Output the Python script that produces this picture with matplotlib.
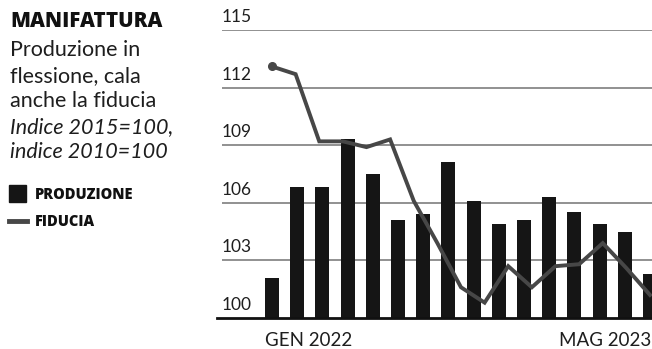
import numpy as np
import matplotlib.pyplot as plt
from matplotlib.patches import Rectangle
from matplotlib.lines import Line2D

plt.rcParams['font.family'] = ['Lato', 'DejaVu Sans']
heavy = ['Open Sans', 'DejaVu Sans']

# Produzione industriale (indice 2015=100), gen 2022 - apr 2023
produzione = [102.1, 106.8, 106.8, 109.3, 107.5, 105.1, 105.4, 108.1,
              106.1, 104.9, 105.1, 106.3, 105.5, 104.9, 104.5, 102.3]
# Fiducia delle imprese manifatturiere (indice 2010=100), gen 2022 - mag 2023
fiducia = [113.1, 112.7, 109.2, 109.2, 108.9, 109.3, 106.1, 103.9, 101.6,
           100.8, 102.7, 101.6, 102.7, 102.8, 103.9, 102.6, 101.2]
y_ticks = [100, 103, 106, 109, 112, 115]
x_labels = ['GEN 2022', 'MAG 2023']

W, H = 652, 349
fig = plt.figure(figsize=(W / 100, H / 100), dpi=100)
fig.patch.set_facecolor('white')


def fx(px):
    return px / W


def fy(py):
    return 1 - py / H


bar_color = '#151515'
line_color = '#474747'
grid_color = '#888888'
text_color = '#1e1e1e'

# plot area (pixel box 222..652 x 30..318)
ax = fig.add_axes([fx(222), fy(318), fx(652) - fx(222), fy(30) - fy(318)])
ax.set_facecolor('none')
for s in ax.spines.values():
    s.set_visible(False)

n_bar = len(produzione)
xb = np.arange(n_bar)
ax.set_xlim(-1.984, 15.08)
ax.set_ylim(100, 115)
ax.set_xticks([])
ax.set_yticks([])

for v in y_ticks:
    if v > 100:
        ax.axhline(v, color=grid_color, lw=1.3, zorder=1)
    ax.annotate(str(v), xy=(0, v), xycoords=ax.get_yaxis_transform(),
                xytext=(0, 5), textcoords='offset pixels',
                ha='left', va='bottom', fontsize=12.5, color=text_color)
ax.plot([-0.012, 1], [100, 100], transform=ax.get_yaxis_transform(),
        color='#111111', lw=2, clip_on=False, zorder=4)

bw = 0.556
ax.bar(xb, np.array(produzione) - 100, bottom=100, width=bw,
       color=bar_color, zorder=2)

# the confidence series spans the same width with one more month
ax2 = ax.twiny()
ax2.set_facecolor('none')
for s in ax2.spines.values():
    s.set_visible(False)
ax2.set_xticks([])
k = (len(fiducia) - 1) / (n_bar - 1)
ax2.set_xlim(ax.get_xlim()[0] * k, ax.get_xlim()[1] * k)
ax2.set_ylim(100, 115)
xl = np.arange(len(fiducia))
ax2.plot(xl, fiducia, color=line_color, lw=2.8, solid_joinstyle='miter',
         zorder=3)
ax2.plot(xl[0], fiducia[0], 'o', color=line_color, ms=5.5, zorder=3)

# month labels under the axis
ax.annotate(x_labels[0], xy=(xb[0] - bw / 2, 100), xycoords='data',
            xytext=(0, -14), textcoords='offset pixels',
            ha='left', va='top', fontsize=13.5, color=text_color,
            annotation_clip=False)
ax.annotate(x_labels[1], xy=(1, 100), xycoords=ax.get_yaxis_transform(),
            xytext=(-1, -14), textcoords='offset pixels',
            ha='right', va='top', fontsize=13.5, color=text_color,
            annotation_clip=False)

# title block
fig.text(fx(10), fy(27), 'MANIFATTURA', fontsize=14.8, fontweight='heavy',
         family=heavy, color='#111111', ha='left', va='baseline')
lines = ['Produzione in', 'flessione, cala', 'anche la fiducia']
for i, t in enumerate(lines):
    fig.text(fx(10), fy(56 + 25.6 * i), t, fontsize=15.5, color=text_color,
             ha='left', va='baseline')
fig.text(fx(10), fy(133), 'Indice 2015=100,', fontsize=15.5, style='italic',
         color=text_color, ha='left', va='baseline')
fig.text(fx(10), fy(158), 'indice 2010=100', fontsize=15.5, style='italic',
         color=text_color, ha='left', va='baseline')

# legend
fig.add_artist(Rectangle((fx(9), fy(202)), fx(17), fy(185) - fy(202),
                         transform=fig.transFigure, color=bar_color))
fig.text(fx(35), fy(199), 'PRODUZIONE', fontsize=10.5, fontweight='heavy',
         family=heavy, color='#111111', ha='left', va='baseline')
fig.add_artist(Line2D([fx(9), fx(27)], [fy(221), fy(221)],
                      transform=fig.transFigure, color=line_color, lw=3.5))
fig.text(fx(35), fy(226), 'FIDUCIA', fontsize=10.5, fontweight='heavy',
         family=heavy, color='#111111', ha='left', va='baseline')

fig.savefig('out.png', dpi=100)
